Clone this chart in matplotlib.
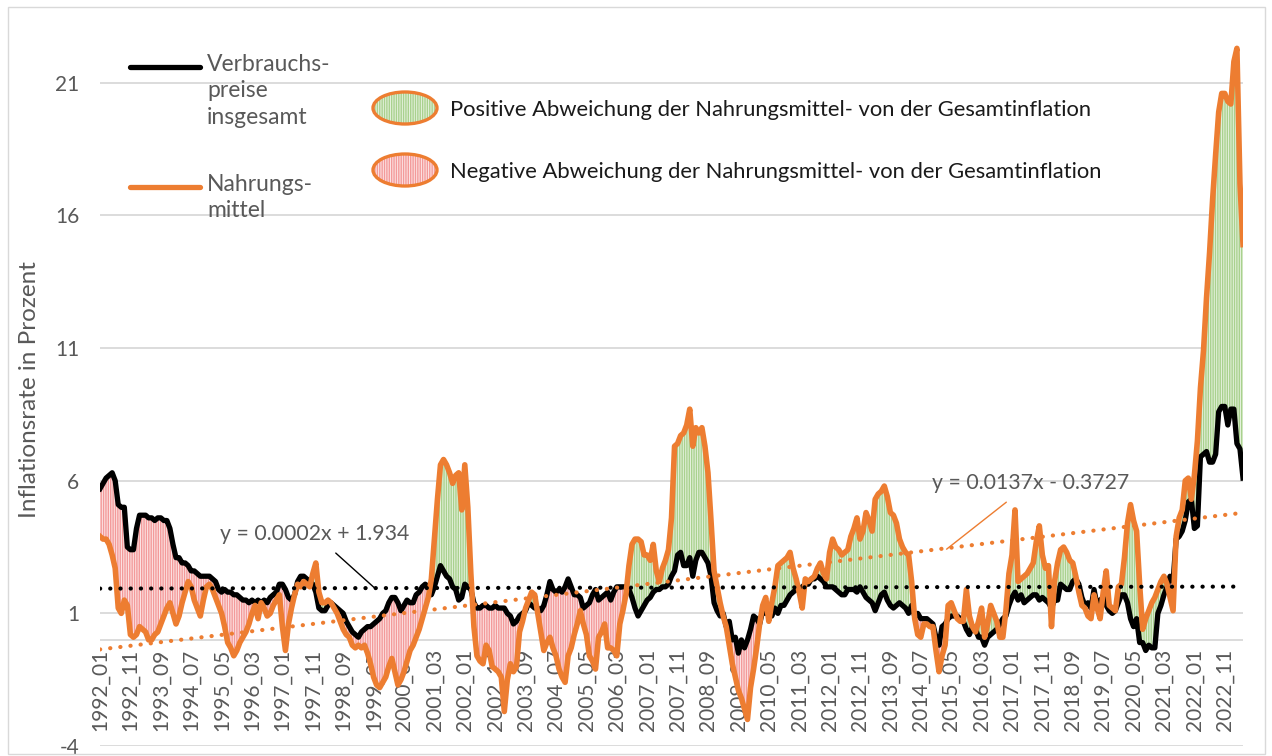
import numpy as np
import matplotlib
matplotlib.use("Agg")
import matplotlib.pyplot as plt
from matplotlib.patches import Ellipse, Rectangle
from matplotlib.lines import Line2D

#---- data: monthly inflation rates (%), 1992_01 .. 2023_05

verbraucherpreise = [
    5.7, 5.9, 6.1, 6.2, 6.3, 6.0, 5.1, 5.0, 5.0, 3.5, 3.4, 3.4,   # 1992
    4.2, 4.7, 4.7, 4.7, 4.6, 4.6, 4.5, 4.6, 4.6, 4.5, 4.5, 4.2,   # 1993
    3.6, 3.1, 3.1, 2.9, 2.9, 2.8, 2.6, 2.6, 2.5, 2.4, 2.4, 2.4,   # 1994
    2.4, 2.3, 2.2, 1.9, 1.8, 1.9, 1.8, 1.8, 1.7, 1.7, 1.6, 1.5,   # 1995
    1.5, 1.4, 1.5, 1.4, 1.5, 1.4, 1.5, 1.4, 1.6, 1.7, 1.8, 2.1,   # 1996
    2.1, 1.9, 1.6, 1.5, 1.7, 2.2, 2.4, 2.4, 2.3, 2.2, 2.1, 1.8,   # 1997
    1.2, 1.1, 1.1, 1.3, 1.4, 1.3, 1.2, 1.1, 1.0, 0.7, 0.5, 0.3,   # 1998
    0.2, 0.1, 0.3, 0.4, 0.5, 0.5, 0.6, 0.7, 0.8, 1.0, 1.1, 1.4,   # 1999
    1.6, 1.6, 1.4, 1.1, 1.3, 1.5, 1.4, 1.4, 1.7, 1.8, 2.0, 2.1,   # 2000
    2.0, 1.7, 2.0, 2.4, 2.8, 2.6, 2.4, 2.3, 2.0, 1.9, 1.5, 1.6,   # 2001
    2.1, 2.0, 1.9, 1.4, 1.2, 1.2, 1.3, 1.3, 1.2, 1.2, 1.3, 1.2,   # 2002
    1.2, 1.2, 1.0, 0.9, 0.6, 0.7, 0.9, 1.0, 1.1, 1.4, 1.3, 1.2,   # 2003
    1.2, 1.1, 1.3, 1.7, 2.2, 1.9, 1.8, 1.9, 1.8, 2.0, 2.3, 2.0,   # 2004
    1.7, 1.7, 1.6, 1.2, 1.3, 1.4, 1.7, 1.9, 1.5, 1.6, 1.7, 1.8,   # 2005
    1.5, 1.8, 2.0, 2.0, 2.0, 2.0, 1.9, 1.6, 1.2, 0.9, 1.1, 1.3,   # 2006
    1.5, 1.6, 1.8, 1.9, 1.9, 2.0, 2.0, 2.1, 2.4, 2.6, 3.2, 3.3,   # 2007
    2.8, 2.8, 3.1, 2.4, 3.0, 3.3, 3.3, 3.1, 2.9, 2.4, 1.4, 1.1,   # 2008
    0.9, 1.0, 0.5, 0.7, 0.0, 0.1, -0.5, 0.0, -0.3, 0.0, 0.4, 0.9, # 2009
    0.8, 0.6, 1.1, 1.0, 1.2, 0.9, 1.2, 1.0, 1.3, 1.3, 1.5, 1.7,   # 2010
    1.8, 1.9, 1.9, 2.0, 2.1, 2.1, 2.3, 2.3, 2.4, 2.3, 2.2, 2.0,   # 2011
    2.0, 2.0, 1.9, 1.8, 1.7, 1.7, 1.9, 1.9, 1.9, 1.8, 2.0, 1.8,   # 2012
    1.6, 1.5, 1.4, 1.1, 1.4, 1.7, 1.8, 1.5, 1.3, 1.2, 1.3, 1.4,   # 2013
    1.3, 1.2, 1.0, 1.3, 0.9, 1.0, 0.8, 0.8, 0.8, 0.7, 0.6, 0.1,   # 2014
    -0.2, 0.5, 0.6, 0.8, 0.9, 0.9, 0.9, 0.8, 0.7, 0.4, 0.2, 0.5,  # 2015
    0.4, 0.1, 0.1, -0.2, 0.1, 0.2, 0.3, 0.4, 0.6, 0.8, 0.9, 1.3,  # 2016
    1.6, 1.8, 1.5, 1.7, 1.4, 1.5, 1.6, 1.7, 1.7, 1.5, 1.6, 1.5,   # 2017
    1.4, 1.2, 1.5, 1.5, 2.1, 2.0, 1.9, 1.9, 2.2, 2.3, 2.1, 1.6,   # 2018
    1.3, 1.4, 1.2, 1.9, 1.3, 1.5, 1.6, 1.3, 1.1, 1.0, 1.1, 1.4,   # 2019
    1.7, 1.7, 1.4, 0.8, 0.5, 0.8, -0.1, -0.1, -0.4, -0.2, -0.3, -0.3, # 2020
    1.0, 1.3, 1.7, 2.0, 2.4, 2.2, 3.8, 3.9, 4.1, 4.5, 5.2, 5.3,   # 2021
    4.2, 4.3, 6.9, 7.0, 7.1, 6.7, 6.7, 7.0, 8.6, 8.8, 8.8, 8.1,   # 2022
    8.7, 8.7, 7.4, 7.2, 6.1,                                      # 2023
]

nahrungsmittel = [
    3.9, 3.8, 3.8, 3.6, 3.2, 2.7, 1.2, 1.0, 1.5, 1.3, 0.2, 0.1,   # 1992
    0.2, 0.5, 0.4, 0.3, 0.0, 0.0, 0.2, 0.3, 0.6, 0.9, 1.2, 1.4,   # 1993
    1.0, 0.6, 0.9, 1.4, 1.8, 2.2, 2.0, 1.5, 1.2, 0.9, 1.5, 2.0,   # 1994
    2.1, 1.9, 1.6, 1.3, 1.0, 0.5, -0.1, -0.3, -0.6, -0.4, -0.1, 0.1, # 1995
    0.3, 0.6, 1.0, 1.3, 0.8, 1.4, 1.2, 0.9, 1.0, 1.3, 1.5, 1.7,   # 1996
    0.5, -0.4, 0.6, 1.2, 1.7, 2.1, 2.0, 2.2, 2.1, 2.0, 2.5, 2.9,  # 1997
    1.8, 1.4, 1.4, 1.5, 1.4, 1.2, 1.0, 0.7, 0.4, 0.2, 0.1, -0.2,  # 1998
    -0.3, -0.2, -0.3, -0.2, -0.5, -0.9, -1.4, -1.7, -1.8, -1.6, -1.4, -1.0, # 1999
    -0.7, -1.2, -1.7, -1.5, -1.2, -0.8, -0.4, -0.2, 0.1, 0.4, 0.8, 1.2, # 2000
    1.6, 2.3, 3.8, 5.3, 6.6, 6.8, 6.6, 6.3, 5.9, 6.2, 6.3, 4.9,   # 2001
    6.6, 5.0, 2.5, 0.5, -0.6, -0.8, -0.9, -0.2, -0.4, -1.0, -1.1, -1.2, # 2002
    -1.4, -2.7, -1.5, -0.9, -1.2, -1.0, 0.3, 0.7, 1.2, 1.5, 1.8, 1.7, # 2003
    1.0, 0.3, -0.4, -0.1, 0.1, -0.3, -0.6, -1.1, -1.4, -1.6, -0.6, -0.3, # 2004
    0.2, 0.6, 1.1, 0.6, 0.2, -0.6, -0.8, -1.1, 0.1, 0.3, 0.6, -0.3, # 2005
    -0.3, -0.4, -0.6, 0.6, 1.1, 1.7, 2.8, 3.6, 3.8, 3.8, 3.7, 3.2, # 2006
    3.2, 3.0, 3.6, 2.6, 2.2, 2.7, 3.0, 3.4, 4.6, 7.3, 7.4, 7.7,   # 2007
    7.8, 8.1, 8.7, 7.3, 8.0, 7.8, 8.0, 7.3, 6.3, 4.5, 2.6, 2.0,   # 2008
    1.4, 0.9, 0.5, -0.2, -0.9, -1.4, -1.9, -2.2, -2.6, -3.0, -1.8, -1.1, # 2009
    -0.3, 0.6, 1.3, 1.6, 0.7, 1.4, 2.0, 2.8, 2.9, 3.0, 3.1, 3.3,  # 2010
    2.7, 2.3, 1.8, 1.2, 2.3, 2.2, 2.3, 2.4, 2.7, 2.9, 2.5, 2.3,   # 2011
    3.3, 3.8, 3.5, 3.4, 3.2, 3.3, 3.4, 3.9, 4.2, 4.6, 3.8, 4.1,   # 2012
    4.8, 4.5, 4.1, 5.3, 5.5, 5.6, 5.8, 5.4, 4.8, 4.7, 4.4, 3.8,   # 2013
    3.5, 3.3, 3.2, 2.2, 0.8, 0.2, 0.1, 0.6, 0.6, 0.5, 0.5, -0.4,  # 2014
    -1.2, -0.6, -0.2, 1.3, 1.4, 1.1, 0.8, 0.7, 0.7, 1.9, 0.9, 0.5, # 2015
    0.3, 0.7, 1.2, 0.1, 0.6, 1.3, 1.0, 0.7, 0.1, 0.1, 1.1, 2.5,   # 2016
    3.2, 4.9, 2.2, 2.3, 2.4, 2.5, 2.7, 2.9, 3.7, 4.3, 3.2, 2.7,   # 2017
    2.8, 0.5, 2.2, 2.9, 3.4, 3.5, 3.3, 3.0, 2.9, 2.4, 1.8, 1.3,   # 2018
    1.2, 0.9, 0.8, 1.7, 1.2, 0.8, 1.8, 2.6, 1.3, 1.2, 1.1, 2.0,   # 2019
    2.1, 3.1, 4.4, 5.1, 4.5, 4.1, 2.1, 0.4, 0.8, 1.1, 1.4, 1.6,   # 2020
    1.9, 2.2, 2.4, 2.1, 1.6, 1.1, 3.9, 4.6, 4.9, 6.0, 6.1, 5.3,   # 2021
    6.2, 7.5, 9.5, 10.9, 12.9, 14.6, 16.6, 18.3, 19.9, 20.6, 20.6, 20.3, # 2022
    20.2, 21.8, 22.3, 17.2, 14.9,                                 # 2023
]

# every 10th month is labelled
monat_labels = [
    "1992_01", "1992_11", "1993_09", "1994_07", "1995_05", "1996_03", "1997_01",
    "1997_11", "1998_09", "1999_07", "2000_05", "2001_03", "2002_01", "2002_11",
    "2003_09", "2004_07", "2005_05", "2006_03", "2007_01", "2007_11", "2008_09",
    "2009_07", "2010_05", "2011_03", "2012_01", "2012_11", "2013_09", "2014_07",
    "2015_05", "2016_03", "2017_01", "2017_11", "2018_09", "2019_07", "2020_05",
    "2021_03", "2022_01", "2022_11",
]

# linear trends as given in the chart (x = 1, 2, ...)
trend_vpi = (0.0002, 1.934)
trend_food = (0.0137, -0.3727)

#----

plt.rcParams['font.family'] = ['Lato', 'DejaVu Sans']
plt.rcParams['hatch.linewidth'] = 1.0
plt.rcParams['axes.unicode_minus'] = False

W, H = 1272, 756
fig = plt.figure(figsize=(W / 100, H / 100), dpi=100)
ax = fig.add_axes([100 / W, 10 / H, 1143 / W, (746 - 16.5) / H])

def fx(px):  # pixel -> figure fraction
    return px / W

def fy(py):
    return 1 - py / H

vpi = np.array(verbraucherpreise)
food = np.array(nahrungsmittel)
x = np.arange(len(vpi))

grey = "#595959"
orange = "#ED7D31"
green_face, green_hatch = "#e6f2de", "#a9d18e"
red_face, red_hatch = "#fde6e6", "#f39a9a"

# fills between the two series
ax.fill_between(x, vpi, food, where=food >= vpi, interpolate=True,
                facecolor=green_face, edgecolor=green_hatch, hatch="|||||||", linewidth=0, zorder=2)
ax.fill_between(x, vpi, food, where=food < vpi, interpolate=True,
                facecolor=red_face, edgecolor=red_hatch, hatch="|||||||", linewidth=0, zorder=2)

ax.plot(x, vpi, color="black", lw=3.8, solid_joinstyle="round", zorder=3)
ax.plot(x, food, color=orange, lw=4.0, solid_joinstyle="round", zorder=3.5)

# trend lines
xt = x + 1
ax.plot(x, trend_vpi[0] * xt + trend_vpi[1], color="black", lw=3,
        linestyle=(0, (0.05, 2.4)), dash_capstyle="round", zorder=4)
ax.plot(x, trend_food[0] * xt + trend_food[1], color=orange, lw=3,
        linestyle=(0, (0.05, 2.4)), dash_capstyle="round", zorder=4)

ax.annotate("y = 0.0002x + 1.934", xy=(90.5, 1.94), xytext=(70.5, 4.0),
            ha="center", va="center", fontsize=15.3, color=grey,
            arrowprops=dict(arrowstyle="-", color="black", lw=1, shrinkA=7, shrinkB=0), zorder=5)
ax.annotate("y = 0.0137x - 0.3727", xy=(278.5, 3.42), xytext=(306, 5.9),
            ha="center", va="center", fontsize=15.3, color=grey,
            arrowprops=dict(arrowstyle="-", color=orange, lw=1, shrinkA=7, shrinkB=0), zorder=5)

# axes styling
ax.set_xlim(0, len(vpi) - 1)
ax.set_ylim(-4, 23.5)
ax.set_yticks([-4, 1, 6, 11, 16, 21])
ax.set_xticks([])
ax.grid(axis="y", color="#d9d9d9", lw=1.3, zorder=0)
ax.axhline(0, color="#d9d9d9", lw=1.3, zorder=0.5)
ax.tick_params(axis="y", length=0, pad=15, labelsize=15, labelcolor=grey)
for s in ax.spines.values():
    s.set_visible(False)

for i, lab in enumerate(monat_labels):
    ax.text(i * 10, -0.35, lab, rotation=90, ha="center", va="top",
            fontsize=15, color=grey, zorder=1)

fig.text(fx(30), fy(390), "Inflationsrate in Prozent", rotation=90,
         ha="center", va="center", fontsize=17.5, color=grey)

# legend drawn by hand
fig.add_artist(Line2D([fx(130), fx(200)], [fy(67), fy(67)], color="black", lw=3.8, solid_capstyle="round"))
fig.add_artist(Line2D([fx(130), fx(200)], [fy(187), fy(187)], color=orange, lw=3.8, solid_capstyle="round"))
fig.text(fx(207), fy(54), "Verbrauchs-\npreise\ninsgesamt", ha="left", va="top",
         fontsize=16.5, color=grey, linespacing=1.32)
fig.text(fx(207), fy(174), "Nahrungs-\nmittel", ha="left", va="top",
         fontsize=16.5, color=grey, linespacing=1.32)

for cy, face, hcol, label in [(108, green_face, green_hatch, "Positive Abweichung der Nahrungsmittel- von der Gesamtinflation"),
                              (170, red_face, red_hatch, "Negative Abweichung der Nahrungsmittel- von der Gesamtinflation")]:
    fig.add_artist(Ellipse((fx(405), fy(cy)), 64 / W, 32 / H, facecolor=face,
                           edgecolor=hcol, hatch="|||||||", linewidth=0))
    fig.add_artist(Ellipse((fx(405), fy(cy)), 64 / W, 32 / H, facecolor="none",
                           edgecolor=orange, linewidth=2.4))
    fig.text(fx(450), fy(cy + 2), label, ha="left", va="center", fontsize=15.8, color="#1a1a1a")

# outer chart border
fig.add_artist(Rectangle((fx(8), fy(754)), (1265 - 8) / W, (754 - 7) / H,
                         facecolor="none", edgecolor="#d9d9d9", lw=1))

fig.savefig("out.png", dpi=100)
